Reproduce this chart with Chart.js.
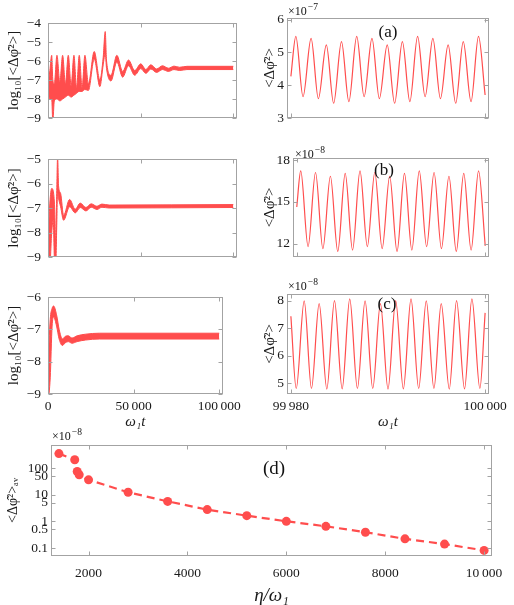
<!DOCTYPE html>
<html>
<head>
<meta charset="utf-8">
<script src="https://cdn.jsdelivr.net/npm/chart.js@4.4.1/dist/chart.umd.min.js"></script>
<style>
  body { margin: 0; background: #fff; width: 514px; height: 605px; position: relative; overflow: hidden; }
  canvas { position: absolute; }
</style>
</head>
<body>
<canvas id="l1" width="245" height="135" style="left:0;top:0"></canvas>
<canvas id="l2" width="245" height="135" style="left:0;top:140px"></canvas>
<canvas id="l3" width="245" height="160" style="left:0;top:280px"></canvas>
<canvas id="r1" width="264" height="135" style="left:250px;top:0"></canvas>
<canvas id="r2" width="264" height="135" style="left:250px;top:140px"></canvas>
<canvas id="r3" width="264" height="164" style="left:250px;top:276px"></canvas>
<canvas id="d" width="514" height="185" style="left:0;top:420px"></canvas>
<script>
// ---- left column: log10 <dphi^2> vs w1 t, upper / lower edge of the band
const tA = [0, 1000, 2000, 2600, 3400, 4830, 6400, 7890, 9400, 10940, 12500, 14000, 15400, 16870, 18400, 19920, 21800, 24950, 28000, 29800, 30880, 31600, 34000, 37160, 40300, 43450, 46800, 50100, 52800, 55490, 58600, 61770, 65000, 68000, 71000, 75000, 100000];
const hiA = [-7.3, -6.5, -5.7, -7.0, -7.2, -5.7, -7.1, -5.7, -7.2, -5.7, -7.3, -5.7, -7.4, -5.7, -7.4, -5.7, -7.2, -5.5, -7.0, -5.8, -4.45, -6.0, -6.75, -5.7, -6.55, -5.95, -6.5, -6.15, -6.45, -6.2, -6.42, -6.25, -6.38, -6.27, -6.33, -6.28, -6.28];
const loA = [-7.6, -8.0, -8.0, -9.2, -8.1, -8.0, -8.1, -8.0, -7.9, -7.8, -7.9, -7.8, -7.7, -7.6, -7.6, -7.5, -7.55, -5.9, -7.35, -6.2, -5.6, -6.4, -7.05, -6.05, -6.85, -6.25, -6.75, -6.4, -6.65, -6.42, -6.6, -6.45, -6.55, -6.45, -6.5, -6.45, -6.45];

const tB = [0, 1000, 2000, 2800, 3600, 4200, 4700, 5190, 5700, 6800, 8420, 11650, 14700, 17400, 20470, 23330, 26400, 29100, 33000, 100000];
const hiB = [-8.5, -6.8, -6.2, -6.3, -7.0, -8.5, -6.4, -4.9, -6.1, -6.4, -7.3, -6.65, -7.05, -6.8, -6.98, -6.83, -6.93, -6.84, -6.88, -6.86];
const loB = [-9.3, -9.3, -8.0, -7.5, -9.3, -9.3, -7.8, -6.3, -6.6, -6.95, -7.5, -6.95, -7.2, -6.98, -7.12, -6.97, -7.06, -6.97, -7.0, -6.98];

const tC = [0, 1300, 2400, 3300, 5000, 6500, 8400, 10000, 11800, 14000, 17000, 22000, 30000, 100000];
const hiC = [-8.2, -6.7, -6.35, -6.28, -6.55, -7.0, -7.3, -7.22, -7.2, -7.27, -7.2, -7.15, -7.12, -7.12];
const loC = [-9.3, -8.5, -6.9, -6.62, -6.9, -7.3, -7.5, -7.42, -7.38, -7.43, -7.38, -7.33, -7.3, -7.3];

// ---- right column: extrema of <dphi^2> over the last 20 units (x 1e-7 / 1e-8)
const tRa = [99980, 99980.51, 99981.25, 99982.08, 99982.83, 99983.65, 99984.40, 99985.21, 99985.97, 99986.78, 99987.54, 99988.35, 99989.11, 99989.92, 99990.68, 99991.48, 99992.25, 99993.05, 99993.82, 99994.62, 99995.40, 99996.19, 99996.97, 99997.75, 99998.55, 99999.32, 100000];
const vRa = [4.27, 5.49, 3.65, 5.43, 3.59, 5.23, 3.45, 5.33, 3.50, 5.49, 3.65, 5.43, 3.59, 5.23, 3.45, 5.33, 3.50, 5.49, 3.65, 5.43, 3.59, 5.23, 3.45, 5.33, 3.50, 5.49, 3.70];

const tRb = [99980, 99980.42, 99981.20, 99981.99, 99982.77, 99983.57, 99984.35, 99985.14, 99985.92, 99986.71, 99987.49, 99988.28, 99989.06, 99989.86, 99990.64, 99991.43, 99992.21, 99993.00, 99993.78, 99994.57, 99995.35, 99996.15, 99996.93, 99997.72, 99998.50, 99999.29, 100000];
const vRb = [14.64, 17.23, 11.80, 17.11, 11.65, 16.84, 11.45, 17.05, 11.55, 17.23, 11.80, 17.11, 11.65, 16.84, 11.45, 17.05, 11.55, 17.23, 11.80, 17.11, 11.65, 16.84, 11.45, 17.05, 11.55, 17.23, 11.85];

const tRc = [99980, 99980.55, 99981.37, 99982.12, 99982.91, 99983.70, 99984.49, 99985.28, 99986.06, 99986.85, 99987.64, 99988.43, 99989.22, 99990.00, 99990.79, 99991.58, 99992.37, 99993.16, 99993.94, 99994.73, 99995.48, 99996.31, 99997.06, 99997.88, 99998.64, 99999.46, 100000];
const vRc = [7.44, 4.80, 8.00, 4.80, 7.90, 4.78, 8.01, 4.79, 8.07, 4.80, 8.00, 4.80, 7.90, 4.78, 8.01, 4.79, 8.07, 4.80, 8.00, 4.80, 7.90, 4.78, 8.01, 4.79, 8.07, 4.80, 7.56];

// ---- panel (d): time-averaged <dphi^2> (x 1e-8) vs eta / w1
const etaD = [1400, 1720, 1770, 1810, 2000, 2800, 3600, 4400, 5200, 6000, 6800, 7600, 8400, 9200, 10000];
const avD = [347, 204, 74, 56, 36, 12.3, 5.6, 2.75, 1.63, 1.0, 0.65, 0.39, 0.22, 0.14, 0.081];

// ---- tick values / labels
const leftXTicks = [0, 50000, 100000];
const leftXLabels = ['0', '50\u2009000', '100\u2009000'];
const rightXTicks = [99980, 100000];
const rightXLabels = ['99\u2009980', '100\u2009000'];
const yTicksL1 = [-9, -8, -7, -6, -5, -4];
const yTicksL2 = [-9, -8, -7, -6, -5];
const yTicksL3 = [-9, -8, -7, -6];
const yTicksRa = [3, 4, 5, 6];
const yTicksRb = [12, 15, 18];
const yTicksRc = [5, 6, 7, 8];
const dXTicks = [2000, 4000, 6000, 8000, 10000];
const dXLabels = ['2000', '4000', '6000', '8000', '10\u2009000'];
const dYTicks = [0.1, 0.5, 1, 5, 10, 50, 100];

const RED = 'rgb(255, 77, 77)';
const SERIF = "'Liberation Serif', 'DejaVu Serif', serif";
Chart.defaults.font.family = SERIF;
Chart.defaults.font.size = 13.5;
Chart.defaults.color = '#1a1a1a';

const pts = (xs, ys) => xs.map((x, i) => ({ x, y: ys[i] }));
const minus = v => String(v).replace('-', '\u2212');

// gray Mathematica-like frame with inward ticks, plus panel letters and x10^n tags
const framePlugin = {
  id: 'frame',
  afterDatasetsDraw(chart, args, o) {
    const { ctx, chartArea: a } = chart;
    const L = Math.round(a.left) + 0.5, R = Math.round(a.right) - 0.5;
    const T = Math.round(a.top) + 0.5, B = Math.round(a.bottom) - 0.5;
    ctx.save();
    ctx.strokeStyle = '#a3a3a3';
    ctx.lineWidth = 1;
    ctx.strokeRect(L, T, R - L, B - T);
    ctx.beginPath();
    const xs = chart.scales.x, ys = chart.scales.y;
    xs.ticks.forEach(t => {
      const p = Math.round(xs.getPixelForValue(t.value)) + 0.5;
      ctx.moveTo(p, B); ctx.lineTo(p, B - 4);
      ctx.moveTo(p, T); ctx.lineTo(p, T + 4);
    });
    ys.ticks.forEach(t => {
      const p = Math.round(ys.getPixelForValue(t.value)) + 0.5;
      ctx.moveTo(L, p); ctx.lineTo(L + 4, p);
      ctx.moveTo(R, p); ctx.lineTo(R - 4, p);
    });
    ctx.stroke();
    ctx.fillStyle = '#111';
    if (o.letter) {
      ctx.font = o.letter.size + 'px ' + SERIF;
      ctx.textAlign = 'center';
      ctx.textBaseline = 'middle';
      ctx.fillText(o.letter.text, o.letter.x, o.letter.y);
    }
    if (o.mult) {
      ctx.font = '12px ' + SERIF;
      ctx.textAlign = 'left';
      ctx.textBaseline = 'middle';
      ctx.fillText('\u00d710', o.mult.x, o.mult.y);
      const w = ctx.measureText('\u00d710').width;
      ctx.font = '9.5px ' + SERIF;
      ctx.fillText(o.mult.exp, o.mult.x + w + 1, o.mult.y - 5);
    }
    ctx.restore();
  }
};

function axis(o) {
  return {
    type: o.type || 'linear',
    min: o.min, max: o.max,
    grid: { display: false, drawTicks: false },
    border: { display: false },
    afterBuildTicks: s => { s.ticks = o.ticks.map(v => ({ value: v })); },
    afterFit: s => { if (s.isHorizontal()) s.height = o.size; else s.width = o.size; },
    ticks: {
      display: !!o.labels,
      padding: o.pad,
      autoSkip: false,
      maxRotation: 0,
      callback: (v, i) => o.labels ? o.labels[i] : ''
    },
    title: o.title ? {
      display: true, text: o.title,
      font: { size: o.titleSize || 15, style: o.italic ? 'italic' : 'normal', lineHeight: o.titleLH || 1.2 },
      padding: o.titlePad
    } : { display: false }
  };
}

function bandChart(id, t, hi, lo, yMin, yMax, yTicks, geo) {
  new Chart(document.getElementById(id), {
    type: 'line',
    data: {
      datasets: [
        { data: pts(t, hi), borderColor: RED, backgroundColor: RED, borderWidth: 1, pointRadius: 0, fill: '+1', cubicInterpolationMode: 'monotone' },
        { data: pts(t, lo), borderColor: RED, backgroundColor: RED, borderWidth: 1, pointRadius: 0, fill: false, cubicInterpolationMode: 'monotone' }
      ]
    },
    options: {
      responsive: false, animation: false, devicePixelRatio: 1,
      layout: { padding: { top: geo.top, right: 8, left: 0, bottom: 0 } },
      plugins: { legend: { display: false }, tooltip: { enabled: false }, frame: {} },
      scales: {
        x: axis({ min: 0, max: 102000, ticks: leftXTicks, labels: geo.xLabels ? leftXLabels : null, size: geo.xSize, pad: 4,
                  title: geo.xTitle, italic: true, titleSize: 15, titlePad: { top: 0, bottom: 9 } }),
        y: axis({ min: yMin, max: yMax, ticks: yTicks, labels: yTicks.map(minus), size: 48, pad: 7,
                  title: 'log\u2081\u2080[<\u0394\u03c6\u0302\u00b2>]', titleSize: 15, titlePad: { top: 5, bottom: 0 } })
      }
    },
    plugins: [framePlugin]
  });
}

function waveChart(id, t, v, yMin, yMax, yTicks, geo) {
  new Chart(document.getElementById(id), {
    type: 'line',
    data: {
      datasets: [{ data: pts(t, v), borderColor: RED, borderWidth: 1.2, pointRadius: 0, fill: false, cubicInterpolationMode: 'monotone' }]
    },
    options: {
      responsive: false, animation: false, devicePixelRatio: 1,
      layout: { padding: { top: geo.top, right: 25, left: 0, bottom: 0 } },
      plugins: { legend: { display: false }, tooltip: { enabled: false }, frame: { letter: geo.letter, mult: geo.mult } },
      scales: {
        x: axis({ min: 99979.6, max: 100000.4, ticks: rightXTicks, labels: geo.xLabels ? rightXLabels : null, size: geo.xSize, pad: 4,
                  title: geo.xTitle, italic: true, titleSize: 15, titlePad: { top: 0, bottom: 9 } }),
        y: axis({ min: yMin, max: yMax, ticks: yTicks, labels: yTicks.map(String), size: geo.ySize, pad: 3,
                  title: '<\u0394\u03c6\u0302\u00b2>', titleSize: 15, titlePad: { top: 11.5, bottom: 0 } })
      }
    },
    plugins: [framePlugin]
  });
}

bandChart('l1', tA, hiA, loA, -9, -4, yTicksL1, { top: 23, xSize: 17 });
bandChart('l2', tB, hiB, loB, -9, -5, yTicksL2, { top: 19, xSize: 18 });
bandChart('l3', tC, hiC, loC, -9, -6, yTicksL3, { top: 17, xSize: 46, xLabels: true, xTitle: '\u03c9\u2081t' });

waveChart('r1', tRa, vRa, 3, 6.05, yTicksRa, { top: 18, xSize: 17, ySize: 37,
  letter: { text: '(a)', x: 138, y: 33, size: 17 }, mult: { x: 38, y: 12, exp: '\u22127' } });
waveChart('r2', tRb, vRb, 11.05, 18.15, yTicksRb, { top: 18, xSize: 18, ySize: 43,
  letter: { text: '(b)', x: 134, y: 31, size: 17 }, mult: { x: 45, y: 15, exp: '\u22128' } });
waveChart('r3', tRc, vRc, 4.6, 8.25, yTicksRc, { top: 18, xSize: 46, ySize: 37, xLabels: true, xTitle: '\u03c9\u2081t',
  letter: { text: '(c)', x: 137, y: 29, size: 17 }, mult: { x: 38, y: 11, exp: '\u22128' } });

new Chart(document.getElementById('d'), {
  type: 'line',
  data: {
    datasets: [{
      data: pts(etaD, avD), borderColor: RED, borderWidth: 2.2, borderDash: [8, 5],
      pointRadius: 4.5, pointBackgroundColor: RED, pointBorderWidth: 0, fill: false, tension: 0
    }]
  },
  options: {
    responsive: false, animation: false, devicePixelRatio: 1,
    layout: { padding: { top: 25, right: 22, left: 0, bottom: 0 } },
    plugins: { legend: { display: false }, tooltip: { enabled: false },
      frame: { letter: { text: '(d)', x: 274, y: 49, size: 19 }, mult: { x: 52, y: 17, exp: '\u22128' } } },
    scales: {
      x: axis({ min: 1240, max: 10160, ticks: dXTicks, labels: dXLabels, size: 49, pad: 9,
                title: '\u03b7/\u03c9\u2081', italic: true, titleSize: 19, titleLH: 1, titlePad: { top: 0, bottom: 0 } }),
      y: axis({ type: 'logarithmic', min: 0.05, max: 730, ticks: dYTicks, labels: dYTicks.map(String), size: 51, pad: 3,
                title: '<\u0394\u03c6\u0302\u00b2>\u2090\u1d65', titleSize: 14, titlePad: { top: 5, bottom: 0 } })
    }
  },
  plugins: [framePlugin]
});
</script>
</body>
</html>
